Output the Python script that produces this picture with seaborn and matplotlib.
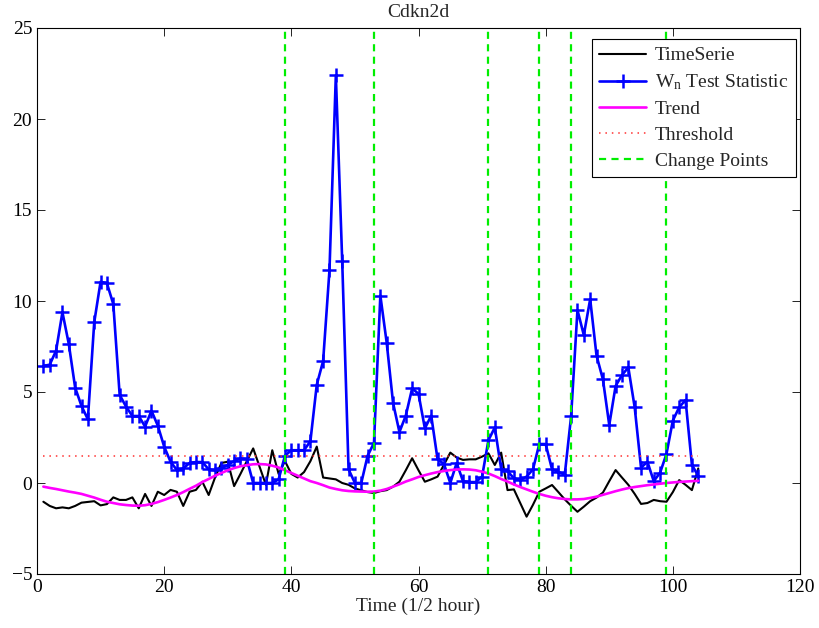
import matplotlib
matplotlib.use("Agg")
import matplotlib.pyplot as plt
import seaborn as sns

# Time axis (1/2 hour steps)
time = list(range(1, 105))

# Observed expression time series
series = [
    -1.03, -1.26, -1.39, -1.34, -1.39, -1.26, -1.08, -1.04, -1.00, -1.23,
    -1.16, -0.79, -0.93, -0.93, -0.79, -1.39, -0.60, -1.26, -0.48, -0.66,
    -0.38, -0.48, -1.26, -0.48, -0.38, 0.07, -0.66, 0.30, 1.10, 1.17,
    -0.17, 0.50, 1.20, 1.90, 0.90, -0.10, 1.80, 0.50, 1.20, 0.50,
    0.30, 0.60, 1.20, 2.00, 0.30, 0.25, 0.20, 0.00, -0.10, -0.30,
    -0.40, -0.50, -0.55, -0.45, -0.39, -0.20, 0.07, 0.70, 1.36, 0.70,
    0.07, 0.20, 0.35, 1.00, 1.67, 1.40, 1.27, 1.30, 1.30, 1.45,
    1.63, 0.99, 1.67, -0.39, -0.35, -1.10, -1.85, -1.20, -0.48, -0.30,
    -0.11, -0.50, -0.90, -1.25, -1.58, -1.30, -1.00, -0.80, -0.53, 0.10,
    0.71, 0.30, -0.10, -0.60, -1.15, -1.10, -0.93, -1.00, -1.03, -0.50,
    0.16, -0.10, -0.39, 0.80,
]

# W_n test statistic
wn_stat = [
    6.43, 6.50, 7.27, 9.38, 7.64, 5.24, 4.23, 3.50, 8.83, 11.06,
    10.97, 9.83, 4.84, 4.20, 3.68, 3.68, 3.10, 3.97, 3.15, 2.00,
    1.17, 0.71, 0.80, 1.10, 1.15, 1.15, 0.75, 0.70, 0.80, 1.00,
    1.20, 1.35, 1.30, 0.00, 0.00, 0.00, 0.00, 0.20, 1.50, 1.80,
    1.80, 1.80, 2.30, 5.40, 6.70, 11.70, 22.40, 12.20, 0.75, 0.00,
    0.00, 1.50, 2.20, 10.30, 7.70, 4.40, 2.80, 3.70, 5.20, 4.90,
    3.00, 3.70, 1.30, 1.05, 0.00, 1.10, 0.10, 0.05, 0.05, 0.35,
    2.35, 3.05, 0.78, 0.65, 0.26, 0.16, 0.35, 0.75, 2.14, 2.14,
    0.75, 0.62, 0.45, 3.66, 9.50, 8.13, 10.10, 7.00, 5.70, 3.19,
    5.33, 5.93, 6.35, 4.16, 0.84, 1.17, 0.10, 0.57, 1.60, 3.43,
    4.16, 4.56, 1.00, 0.38,
]

# Smooth trend component
trend = [
    -0.20, -0.27, -0.33, -0.40, -0.47, -0.53, -0.60, -0.70, -0.80, -0.92,
    -1.03, -1.10, -1.17, -1.21, -1.24, -1.25, -1.22, -1.15, -1.05, -0.93,
    -0.80, -0.66, -0.50, -0.32, -0.15, 0.05, 0.22, 0.40, 0.55, 0.70,
    0.82, 0.92, 0.98, 1.03, 1.04, 1.02, 0.95, 0.85, 0.70, 0.55,
    0.40, 0.25, 0.10, 0.00, -0.12, -0.25, -0.33, -0.40, -0.44, -0.46,
    -0.47, -0.48, -0.47, -0.42, -0.33, -0.20, -0.07, 0.08, 0.20, 0.33,
    0.43, 0.52, 0.60, 0.66, 0.71, 0.74, 0.75, 0.74, 0.70, 0.62,
    0.52, 0.38, 0.22, 0.08, -0.08, -0.22, -0.35, -0.48, -0.60, -0.70,
    -0.78, -0.84, -0.88, -0.90, -0.90, -0.88, -0.82, -0.75, -0.65, -0.55,
    -0.45, -0.36, -0.28, -0.22, -0.17, -0.12, -0.08, -0.04, 0.00, 0.03,
    0.06, 0.08, 0.10, 0.12,
]

threshold = 1.5
change_points = [39, 53, 71, 79, 84, 99]

x_ticks = [0, 20, 40, 60, 80, 100, 120]
y_ticks = [-5, 0, 5, 10, 15, 20, 25]

sns.set_style("ticks")
plt.rcParams["font.family"] = ["Liberation Serif", "DejaVu Serif"]
plt.rcParams["mathtext.fontset"] = "custom"
plt.rcParams["mathtext.rm"] = "Liberation Serif"
plt.rcParams["mathtext.it"] = "Liberation Serif:italic"
plt.rcParams["font.size"] = 14

fig = plt.figure(figsize=(8.2, 6.28), dpi=100)
ax = fig.add_axes([37 / 820, 1 - 574 / 628, 763 / 820, 546 / 628])

blue = "#0000ff"
sns.lineplot(x=time, y=series, ax=ax, color="black", linewidth=1.5,
             estimator=None, label="TimeSerie")
sns.lineplot(x=time, y=wn_stat, ax=ax, color=blue, linewidth=1.9,
             marker="+", markersize=10, markeredgewidth=1.8,
             markeredgecolor=blue, markerfacecolor=blue,
             estimator=None, label=r"$\mathrm{W_n}$ Test Statistic")
sns.lineplot(x=time, y=trend, ax=ax, color="#ff00ff", linewidth=1.9,
             estimator=None, label="Trend")
ax.hlines(threshold, time[0], time[-1], colors="#ff3030", linewidth=1.1,
          linestyles=(0, (1, 3.2)), label="Threshold")
for i, cp in enumerate(change_points):
    ax.axvline(cp, color="#00ee00", linewidth=1.6, linestyle=(0, (3.2, 2.4)),
               label="Change Points" if i == 0 else None)

ax.set_xlim(0, 120)
ax.set_ylim(-5, 25)
ax.set_xticks(x_ticks)
ax.set_yticks(y_ticks)
ax.tick_params(direction="in", length=5.5, width=0.6, top=True, right=True,
               labelsize=14, colors="black")
for sp in ax.spines.values():
    sp.set_visible(True)
    sp.set_linewidth(0.8)
    sp.set_color("black")

ax.set_title("Cdkn2d", fontsize=14, pad=8)
ax.set_xlabel("Time (1/2 hour)", fontsize=14, labelpad=1)

leg = ax.legend(loc="upper right", bbox_to_anchor=(0.9948, 0.98),
                fontsize=14, frameon=True, fancybox=False,
                framealpha=1, edgecolor="black", borderaxespad=0.0,
                handlelength=2.4, handletextpad=0.45, labelspacing=0.42,
                borderpad=0.4)
leg.get_frame().set_linewidth(0.8)

fig.savefig("out.png", dpi=100)
